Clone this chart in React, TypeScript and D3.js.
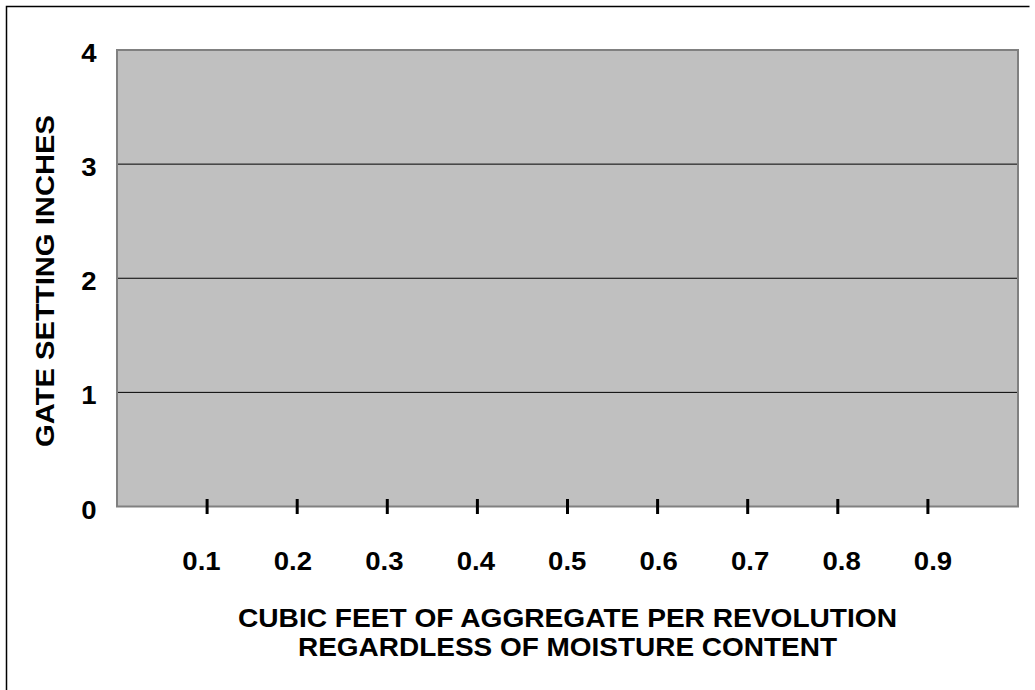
import React from "react";
import * as d3 from "d3";

const xTicks = [0.1, 0.2, 0.3, 0.4, 0.5, 0.6, 0.7, 0.8, 0.9];
const yTicks = [0, 1, 2, 3, 4];
const gridValues = [1, 2, 3];
const yTitle = "GATE SETTING INCHES";
const xTitleLines = ["CUBIC FEET OF AGGREGATE PER REVOLUTION", "REGARDLESS OF MOISTURE CONTENT"];

export default function App() {
  const W = 1035, H = 690;
  const left = 117, right = 1018, top = 50, bottom = 506.5;
  const x = d3.scaleLinear().domain([0, 1]).range([left, right]);
  const xLab = d3.scaleLinear().domain([0.1, 0.9]).range([201.5, 933]);
  const y = d3.scaleLinear().domain([0, 4]).range([bottom, top]);
  const font = "'Liberation Sans', Arial, sans-serif";
  const fs = 25.5;
  const sx = 1.08;
  return (
    <svg width={W} height={H} style={{ position: "absolute", left: 0, top: 0 }}>
      <rect x={0} y={0} width={W} height={H} fill="#fff" />
      <path d={`M6.5,${H} V6.5 H1029.5`} fill="none" stroke="#000" strokeWidth={1.5} />
      <rect x={left} y={top} width={right - left} height={bottom - top} fill="#c0c0c0" stroke="#808080" strokeWidth={2} />
      {gridValues.map((v) => (
        <line key={v} x1={left + 1} x2={right - 1} y1={y(v)} y2={y(v)} stroke="#000" strokeWidth={1} />
      ))}
      {yTicks.map((v) => (
        <text key={v} transform={`translate(96.5,${y(v) + 12}) scale(${sx},1)`} textAnchor="end" fontFamily={font} fontWeight="bold" fontSize={fs}>
          {v}
        </text>
      ))}
      {xTicks.map((v) => (
        <g key={v}>
          <line x1={x(v)} x2={x(v)} y1={499} y2={514} stroke="#000" strokeWidth={3} />
          <text transform={`translate(${xLab(v)},569.5) scale(${sx},1)`} textAnchor="middle" fontFamily={font} fontWeight="bold" fontSize={fs}>
            {v.toFixed(1)}
          </text>
        </g>
      ))}
      <text
        transform={`translate(53.5,281) rotate(-90)`}
        x={-166}
        textLength={332}
        lengthAdjust="spacingAndGlyphs"
        fontFamily={font}
        fontWeight="bold"
        fontSize={fs}
      >
        {yTitle}
      </text>
      <text x={238} y={626.5} textLength={659} lengthAdjust="spacingAndGlyphs" fontFamily={font} fontWeight="bold" fontSize={fs}>
        {xTitleLines[0]}
      </text>
      <text x={298} y={655.5} textLength={539} lengthAdjust="spacingAndGlyphs" fontFamily={font} fontWeight="bold" fontSize={fs}>
        {xTitleLines[1]}
      </text>
    </svg>
  );
}
